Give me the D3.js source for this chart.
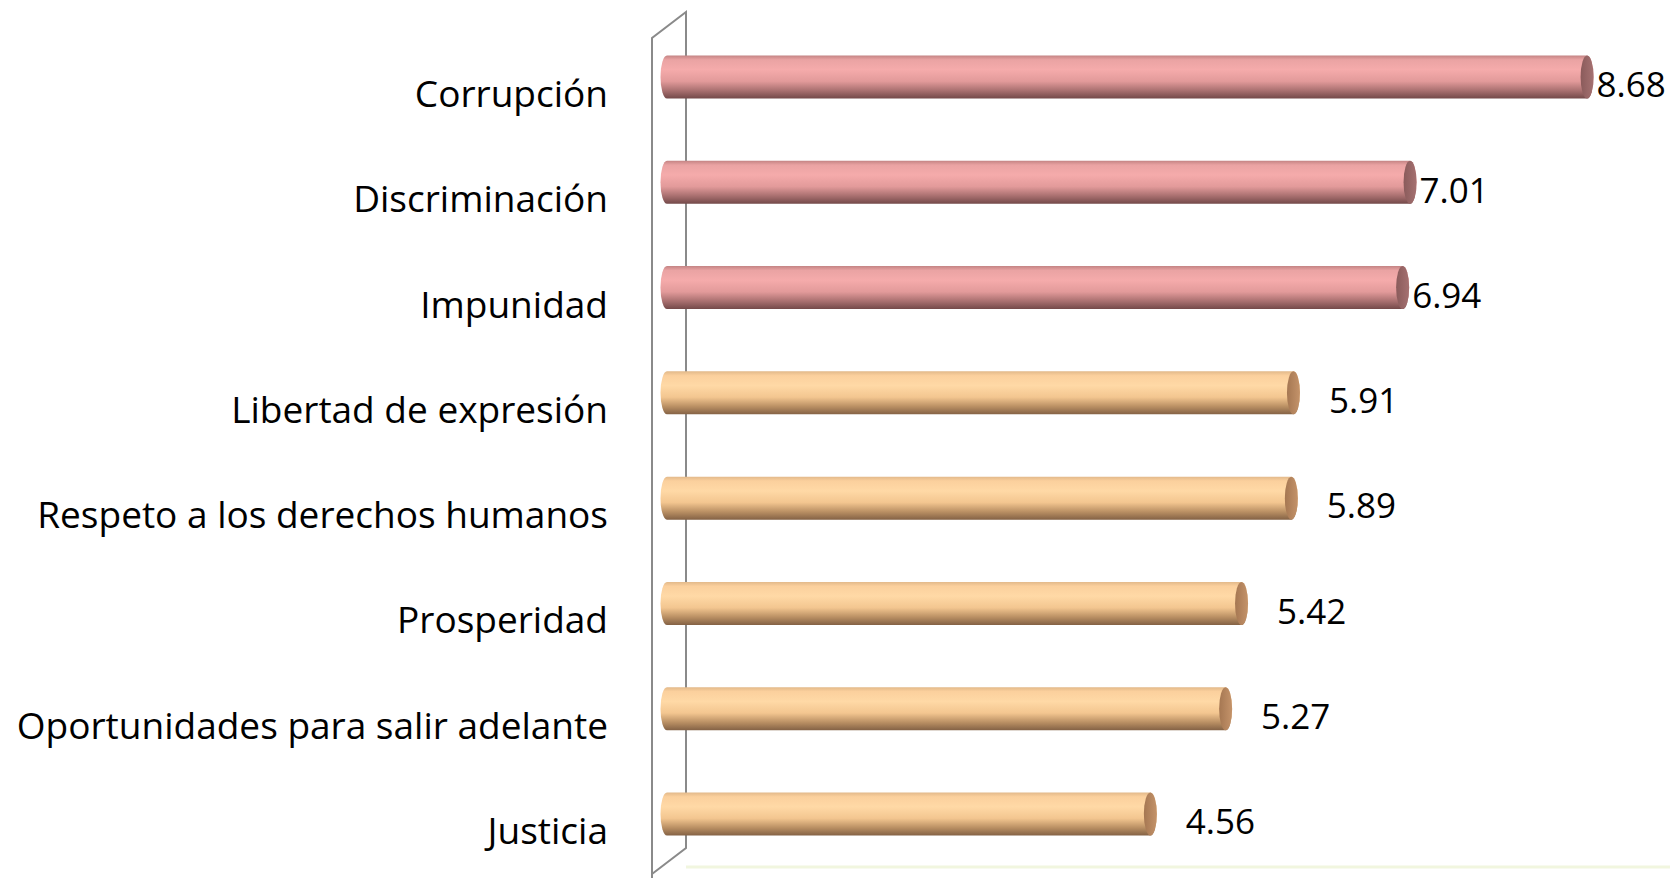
<!DOCTYPE html>
<html>
<head>
<meta charset="utf-8">
<script src="https://cdn.jsdelivr.net/npm/d3@7"></script>
<style>
  body { margin: 0; background: #fff; }
  svg { display: block; }
  text { font-family: "Open Sans", sans-serif; fill: #000; }
</style>
</head>
<body>
<svg id="chart" width="1670" height="878"></svg>
<script>
// data, top to bottom
const categories = [
  "Corrupción",
  "Discriminación",
  "Impunidad",
  "Libertad de expresión",
  "Respeto a los derechos humanos",
  "Prosperidad",
  "Oportunidades para salir adelante",
  "Justicia"
];
const values = [8.68, 7.01, 6.94, 5.91, 5.89, 5.42, 5.27, 4.56];
const groups = ["alto", "alto", "alto", "medio", "medio", "medio", "medio", "medio"];

const svg = d3.select("#chart"),
    width = +svg.attr("width"),
    height = +svg.attr("height");

// scales
const x = d3.scaleLinear()
    .domain([0, 9])
    .range([667, 667 + 954]);

const y = d3.scalePoint()
    .domain(categories)
    .range([77, 814]);

const barR = 21.5;   // half height of cylinder
const capR = 6.5;    // horizontal radius of the end ellipse

const color = {
  alto: {
    body: [[0, "#c48484"], [0.1, "#eaa3a3"], [0.33, "#f5abab"], [0.6, "#e29a9a"], [0.82, "#a86f6f"], [1, "#734949"]],
    cap: ["#8a5b5b", "#a57171"]
  },
  medio: {
    body: [[0, "#e2b98a"], [0.1, "#fbd09d"], [0.33, "#ffd9a6"], [0.6, "#f3c690"], [0.82, "#b98f63"], [1, "#846245"]],
    cap: ["#a57752", "#c4936a"]
  }
};

const defs = svg.append("defs");
Object.keys(color).forEach(k => {
  defs.append("linearGradient")
      .attr("id", "body-" + k)
      .attr("x1", 0).attr("y1", 0).attr("x2", 0).attr("y2", 1)
    .selectAll("stop")
    .data(color[k].body)
    .enter().append("stop")
      .attr("offset", d => d[0])
      .attr("stop-color", d => d[1]);
  defs.append("linearGradient")
      .attr("id", "cap-" + k)
      .attr("x1", 0).attr("y1", 0).attr("x2", 1).attr("y2", 0)
    .selectAll("stop")
    .data(color[k].cap)
    .enter().append("stop")
      .attr("offset", (d, i) => i)
      .attr("stop-color", d => d);
});

// back wall (3d frame lines)
const wall = svg.append("g")
    .attr("fill", "none")
    .attr("stroke", "#8a8a8a")
    .attr("stroke-width", 2);
wall.append("path").attr("d", "M652,878 L652,38 L686,12 L686,848 L652,874");

// faint floor line
svg.append("line")
    .attr("x1", 686).attr("x2", width)
    .attr("y1", 867).attr("y2", 867)
    .attr("stroke", "#f1f6df")
    .attr("stroke-width", 3);

const rows = categories.map((c, i) => ({ cat: c, v: values[i], g: groups[i] }));

const bar = svg.append("g")
  .selectAll("g")
  .data(rows)
  .enter().append("g");

// cylinder body
bar.append("path")
    .attr("d", d => {
      const x0 = x(0), x1 = x(d.v), cy = y(d.cat);
      return `M${x0},${cy - barR} L${x1},${cy - barR}`
        + ` A${capR},${barR} 0 0 1 ${x1},${cy + barR}`
        + ` L${x0},${cy + barR}`
        + ` A${capR},${barR} 0 0 1 ${x0},${cy - barR} Z`;
    })
    .attr("fill", d => `url(#body-${d.g})`);

// end face
bar.append("ellipse")
    .attr("cx", d => x(d.v))
    .attr("cy", d => y(d.cat))
    .attr("rx", capR)
    .attr("ry", barR)
    .attr("fill", d => `url(#cap-${d.g})`);

// value labels
bar.append("text")
    .attr("x", d => x(d.v) + capR + (d.g === "alto" ? 3 : 29))
    .attr("y", d => y(d.cat) + 8)
    .attr("dy", "0.35em")
    .attr("font-size", 35)
    .text(d => d.v.toFixed(2));

// category labels
svg.append("g")
  .selectAll("text")
  .data(categories)
  .enter().append("text")
    .attr("x", 608)
    .attr("y", d => y(d) + 17)
    .attr("dy", "0.35em")
    .attr("text-anchor", "end")
    .attr("font-size", 37)
    .text(d => d);
</script>
</body>
</html>
